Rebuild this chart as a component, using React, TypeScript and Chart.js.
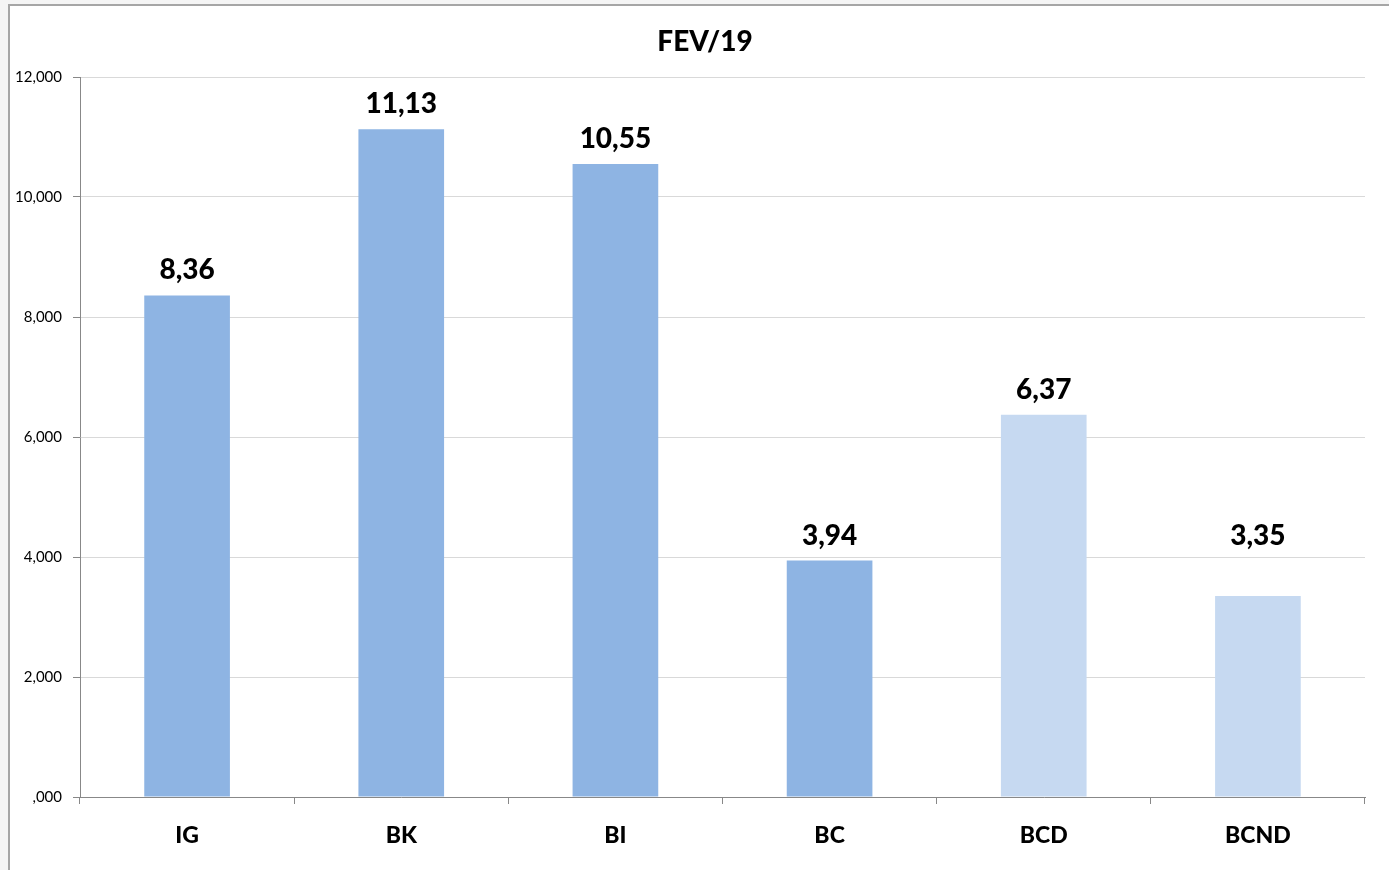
import React, { useEffect, useRef } from "react";
import { Chart, registerables } from "chart.js";

Chart.register(...registerables);

const categories = ["IG", "BK", "BI", "BC", "BCD", "BCND"];
const values = [8.36, 11.13, 10.55, 3.94, 6.37, 3.35];
const barColors = ["#8EB4E3", "#8EB4E3", "#8EB4E3", "#8EB4E3", "#C6D9F1", "#C6D9F1"];
const labelLift = [0, 0, 0, 0, 0, 35];
const yTicks = [0, 2, 4, 6, 8, 10, 12];
const titleText = "FEV/19";

const FONT = "Lato, 'Open Sans', sans-serif";

function fmtTick(v: number): string {
  const s = v.toFixed(3).replace(".", ",");
  return v === 0 ? s.replace(/^0/, "") : s;
}

function fmtLabel(v: number): string {
  return v.toFixed(2).replace(".", ",");
}

const overlay = {
  id: "overlay",
  afterDatasetsDraw(chart: any) {
    const ctx = chart.ctx;
    const meta = chart.getDatasetMeta(0);
    ctx.save();
    ctx.fillStyle = "#000";
    ctx.font = `900 28px ${FONT}`;
    ctx.textAlign = "center";
    ctx.textBaseline = "alphabetic";
    meta.data.forEach((bar: any, i: number) => {
      ctx.fillText(fmtLabel(values[i]), bar.x, bar.y - 16 - labelLift[i]);
    });
    ctx.font = `900 28px ${FONT}`;
    ctx.fillText(titleText, 705, 51);
    ctx.restore();
  },
};

export default function App() {
  const ref = useRef<HTMLCanvasElement>(null);
  useEffect(() => {
    document.body.style.margin = "0";
    const chart = new Chart(ref.current!, {
      type: "bar",
      data: {
        labels: categories,
        datasets: [
          {
            data: values,
            backgroundColor: barColors,
            borderWidth: 0,
            categoryPercentage: 1,
            barPercentage: 0.4,
          },
        ],
      },
      options: {
        animation: false,
        responsive: false,
        devicePixelRatio: 1,
        layout: { padding: { left: 0, right: 24, top: 77, bottom: 0 } },
        plugins: { legend: { display: false }, title: { display: false }, tooltip: { enabled: false } },
        scales: {
          x: {
            grid: { display: true, drawOnChartArea: false, drawTicks: true, tickLength: 7, tickColor: "#888", offset: true },
            border: { color: "#888", width: 1 },
            ticks: { color: "#000", font: { family: FONT, size: 23, weight: "900" }, padding: 18 },
            afterFit(scale: any) {
              scale.height = 73;
            },
          },
          y: {
            min: 0,
            max: 12,
            afterBuildTicks(scale: any) {
              scale.ticks = yTicks.map((v) => ({ value: v }));
            },
            grid: { color: "#d9d9d9", tickLength: 7, tickColor: "#888" },
            border: { color: "#888", width: 1 },
            ticks: {
              color: "#000",
              font: { family: FONT, size: 15 },
              padding: 11,
              callback: (v: any) => fmtTick(Number(v)),
            },
            afterFit(scale: any) {
              scale.width = 80;
            },
          },
        },
      },
      plugins: [overlay],
    });
    return () => chart.destroy();
  }, []);

  return (
    <div style={{ position: "relative", width: 1389, height: 870, overflow: "hidden", background: "#f5f5f5" }}>
      <div
        style={{
          position: "absolute",
          left: 8,
          top: 4,
          width: 1420,
          height: 900,
          borderLeft: "2px solid #a6a6a6",
          borderTop: "2px solid #a6a6a6",
          background: "#fff",
        }}
      />
      <canvas ref={ref} width={1389} height={870} style={{ position: "absolute", left: 0, top: 0 }} />
    </div>
  );
}
